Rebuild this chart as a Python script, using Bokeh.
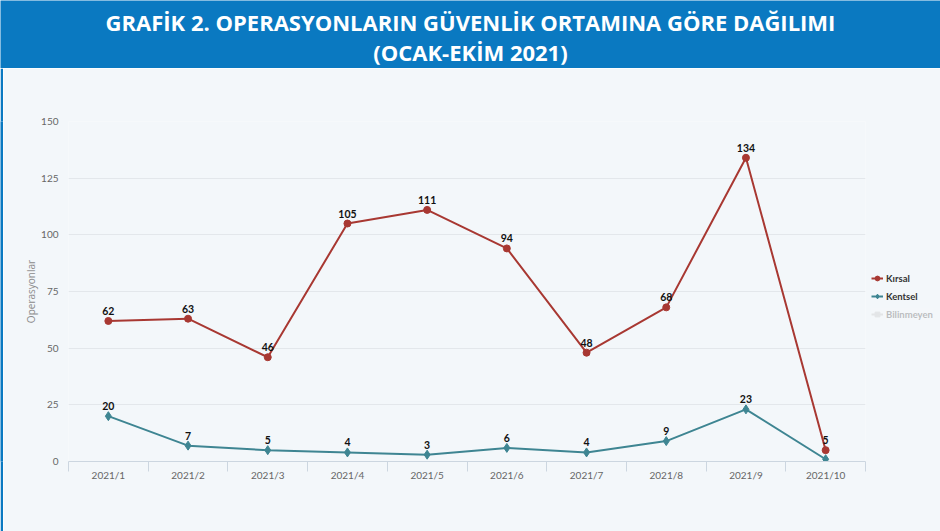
from bokeh.plotting import figure
from bokeh.models import ColumnDataSource, FixedTicker, Legend, LegendItem, Range1d
from bokeh.layouts import column, row
from bokeh.core.properties import value
from bokeh.embed import file_html
from bokeh.resources import INLINE

# ---- data ----
title_line1 = "GRAFİK 2. OPERASYONLARIN GÜVENLİK ORTAMINA GÖRE DAĞILIMI"
title_line2 = "(OCAK-EKİM 2021)"
months = ["2021/1", "2021/2", "2021/3", "2021/4", "2021/5",
          "2021/6", "2021/7", "2021/8", "2021/9", "2021/10"]
kirsal = [62, 63, 46, 105, 111, 94, 48, 68, 134, 5]
kentsel = [20, 7, 5, 4, 3, 6, 4, 9, 23, 1]
kentsel_labels = ["20", "7", "5", "4", "3", "6", "4", "9", "23", ""]
bilinmeyen = [None, None, None, None, None, None, None, None, None, None]  # hidden series
y_ticks = [0, 25, 50, 75, 100, 125, 150]
series_names = ["Kırsal", "Kentsel", "Bilinmeyen"]

BLUE = "#0a79c1"
BG = "#f3f7fa"
RED = "#a83832"
TEAL = "#3e8592"
FONT = "Lato"

# ---- banner ----
banner = figure(width=940, height=68, x_range=Range1d(0, 1), y_range=Range1d(0, 68),
                toolbar_location=None, output_backend="svg", min_border=0,
                background_fill_color=BLUE, border_fill_color=BLUE, outline_line_color=None)
banner.axis.visible = False
banner.grid.visible = False
banner.text(x=[0.5, 0.5], y=[47, 17], text=[title_line1, title_line2],
            text_align="center", text_baseline="middle", text_color="white",
            text_font=value("Open Sans"), text_font_style="bold", text_font_size="22px")

# ---- left strip ----
strip = figure(width=3, height=463, toolbar_location=None, output_backend="svg",
               min_border=0, background_fill_color=BLUE, border_fill_color=BLUE,
               outline_line_color=None)
strip.axis.visible = False
strip.grid.visible = False

# ---- main chart ----
xs = list(range(1, len(months) + 1))
src_k = ColumnDataSource(dict(x=xs, y=kirsal, lab=[str(v) for v in kirsal]))
src_t = ColumnDataSource(dict(x=xs, y=kentsel, lab=kentsel_labels))
src_b = ColumnDataSource(dict(x=xs, y=[float("nan") if v is None else v for v in bilinmeyen]))

p = figure(frame_width=797, frame_height=340, toolbar_location=None, output_backend="svg",
           x_range=Range1d(0.5, len(months) + 0.5), y_range=Range1d(0, 150),
           background_fill_color=BG, border_fill_color=BG, outline_line_color=None,
           min_border_left=65, min_border_top=53, min_border_bottom=70, min_border_right=0)

p.xgrid.visible = False
p.ygrid.grid_line_color = "#e3e7eb"
p.ygrid.ticker = FixedTicker(ticks=y_ticks)

lk = p.line("x", "y", source=src_k, line_color=RED, line_width=2)
sk = p.scatter("x", "y", source=src_k, marker="circle", size=7, color=RED)
lt = p.line("x", "y", source=src_t, line_color=TEAL, line_width=2)
st = p.scatter("x", "y", source=src_t, marker="diamond", size=9, color=TEAL)
lb = p.line("x", "y", source=src_b, line_color="#bdbdbd", line_width=2, visible=False)
sb = p.scatter("x", "y", source=src_b, marker="square", size=7, color="#bdbdbd", visible=False)

for src in (src_k, src_t):
    p.text("x", "y", text="lab", source=src, text_align="center", text_baseline="bottom",
           y_offset=-6, text_font=value(FONT), text_font_style="bold",
           text_font_size="10.5px", text_color="#111111")

# axes
xa = p.xaxis[0]
xa.ticker = FixedTicker(ticks=xs, minor_ticks=[x - 0.5 for x in xs] + [len(xs) + 0.5])
xa.major_label_overrides = {x: m for x, m in zip(xs, months)}
xa.major_tick_line_color = None
xa.major_tick_in = 0
xa.major_tick_out = 0
xa.minor_tick_line_color = "#ccd6e0"
xa.minor_tick_in = 0
xa.minor_tick_out = 10
xa.axis_line_color = "#ccd6e0"
xa.major_label_standoff = -3
xa.major_label_text_font = FONT
xa.major_label_text_font_size = "10px"
xa.major_label_text_color = "#666666"

ya = p.yaxis[0]
ya.ticker = FixedTicker(ticks=y_ticks)
ya.axis_line_color = None
ya.major_tick_line_color = None
ya.major_tick_in = 0
ya.major_tick_out = 0
ya.minor_tick_line_color = None
ya.major_label_standoff = 10
ya.major_label_text_font = FONT
ya.major_label_text_font_size = "10px"
ya.major_label_text_color = "#666666"
ya.axis_label = "Operasyonlar"
ya.axis_label_text_font = "Open Sans"
ya.axis_label_text_font_style = "normal"
ya.axis_label_text_font_size = "10px"
ya.axis_label_text_color = "#8a8a8a"
ya.axis_label_standoff = 0

legend = Legend(items=[LegendItem(label=series_names[0], renderers=[lk, sk]),
                       LegendItem(label=series_names[1], renderers=[lt, st]),
                       LegendItem(label=series_names[2], renderers=[lb, sb])],
                location="center_left", orientation="vertical", click_policy="hide",
                label_text_font=FONT, label_text_font_style="bold",
                label_text_font_size="9.5px", label_text_color="#333333",
                glyph_width=12, glyph_height=12, label_height=12, label_standoff=3,
                spacing=6, padding=0, margin=6,
                title=" ", title_text_font_size="9px", title_standoff=0,
                border_line_color=None, background_fill_alpha=0,
                inactive_fill_color=BG, inactive_fill_alpha=0.7)
p.add_layout(legend, "right")

layout = column(banner, row(strip, p))
open("out.html", "w").write(file_html(layout, INLINE))
